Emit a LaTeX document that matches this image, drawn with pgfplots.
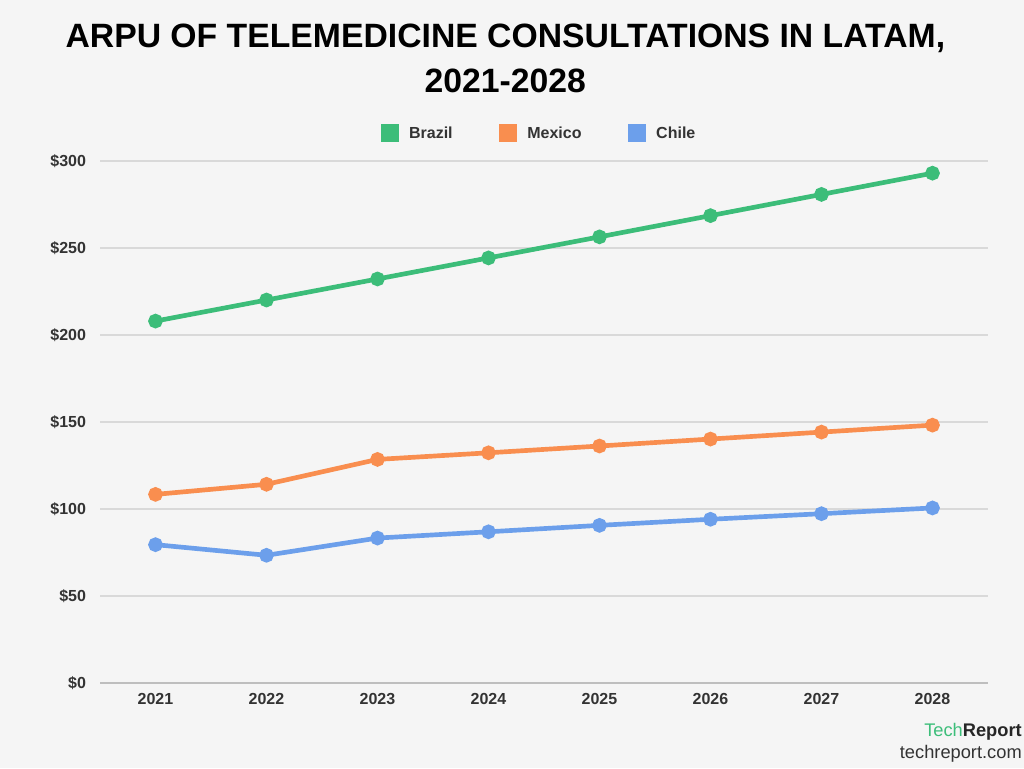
\documentclass[border=0pt]{standalone}
\usepackage{pgfplots}
\pgfplotsset{compat=1.18}
\usepackage{fontspec}
\setmainfont{Liberation Sans}
\definecolor{bg}{HTML}{F5F5F5}
\definecolor{cbrazil}{HTML}{3CBD79}
\definecolor{cmexico}{HTML}{F98E4F}
\definecolor{cchile}{HTML}{6C9FEB}
\definecolor{gridc}{HTML}{D9D9D9}
\definecolor{txt}{HTML}{333333}
\definecolor{trgreen}{HTML}{3DBE7A}
\begin{document}
\begin{tikzpicture}
\fill[bg] (0pt,0pt) rectangle (768pt,576pt);
\useasboundingbox (0pt,0pt) rectangle (768pt,576pt);
\node[font=\fontsize{25.3}{34}\selectfont\bfseries, align=center, text=black] at (379pt,532pt) {ARPU OF TELEMEDICINE CONSULTATIONS IN LATAM,\\2021-2028};
\begin{axis}[
  at={(75pt,63.75pt)}, anchor=south west,
  scale only axis, width=666pt, height=391.5pt,
  xmin=2020.5, xmax=2028.5, ymin=0, ymax=300,
  xtick={2021,...,2028},
  xticklabels={2021,2022,2023,2024,2025,2026,2027,2028},
  ytick={0,50,...,300},
  yticklabels={\$0,\$50,\$100,\$150,\$200,\$250,\$300},
  ymajorgrids, major grid style={gridc, line width=1.5pt},
  axis line style={draw=none},
  axis x line*=bottom, axis y line*=left,
  major tick length=0pt,
  tick label style={font=\fontsize{12}{14}\selectfont\bfseries, text=txt},
  xticklabel style={yshift=-4.5pt},
  yticklabel style={xshift=-7pt},
  clip=false,
  legend columns=3,
  legend style={at={(0.495,1)}, anchor=south, yshift=11.5pt, draw=none, fill=none,
    font=\fontsize{12}{14}\selectfont\bfseries, text=txt,
    /tikz/every even column/.append style={column sep=33pt}},
  legend image code/.code={\fill[#1] (0pt,-4.9pt) rectangle (9.75pt,4.9pt); \path (15.5pt,0pt);},
  every axis plot/.append style={line width=3.5pt, mark=*, mark size=3.7pt},
]
\draw[gridc!70!gray, line width=1.5pt] (axis cs:2020.5,0) -- (axis cs:2028.5,0);
\addplot[cbrazil, mark options={fill=cbrazil, draw=cbrazil}] coordinates {
(2021,208.0) (2022,220.1) (2023,232.2) (2024,244.3) (2025,256.4) (2026,268.6) (2027,280.8) (2028,293.0)};
\addlegendentry{Brazil}
\addplot[cmexico, mark options={fill=cmexico, draw=cmexico}] coordinates {
(2021,108.4) (2022,114.2) (2023,128.5) (2024,132.3) (2025,136.2) (2026,140.2) (2027,144.2) (2028,148.2)};
\addlegendentry{Mexico}
\addplot[cchile, mark options={fill=cchile, draw=cchile}] coordinates {
(2021,79.5) (2022,73.4) (2023,83.3) (2024,86.9) (2025,90.6) (2026,94.1) (2027,97.3) (2028,100.6)};
\addlegendentry{Chile}
\end{axis}
\node[anchor=east, font=\fontsize{13.7}{16}\selectfont, inner sep=0pt] at (766.5pt,27.5pt) {\textcolor{trgreen}{Tech}\textcolor{black!85}{\bfseries Report}};
\node[anchor=east, font=\fontsize{13.7}{16}\selectfont, inner sep=0pt, text=black!80] at (766.5pt,11pt) {techreport.com};
\end{tikzpicture}
\end{document}
